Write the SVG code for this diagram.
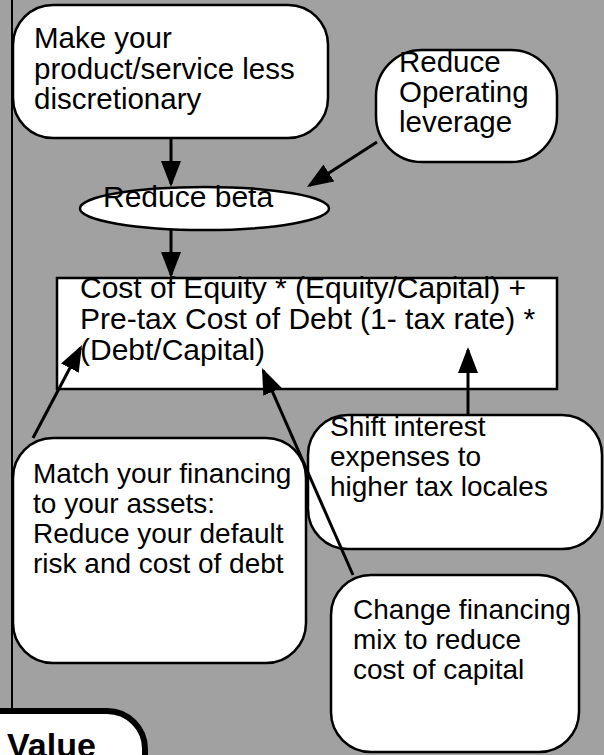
<svg xmlns="http://www.w3.org/2000/svg" width="604" height="755" viewBox="0 0 604 755">
<defs>
<style>
.node{fill:#ffffff;stroke:#000000;stroke-width:2.5}
.t{font-family:"Liberation Sans",Arial,Helvetica,sans-serif;font-size:28px;fill:#000000}
.t29{font-size:29.5px}
.t30{font-size:30px}
.edge{stroke:#000000;stroke-width:3;fill:none;marker-end:url(#ah)}
</style>
<marker id="ah" viewBox="0 0 26 20" refX="23" refY="10" markerUnits="userSpaceOnUse" markerWidth="26" markerHeight="20" orient="auto">
<path d="M0,0 L26,10 L0,20 z" fill="#000000"/>
</marker>
</defs>
<rect x="0" y="0" width="604" height="755" fill="#a1a1a1"/>
<line x1="12" y1="0" x2="12" y2="710" stroke="#000000" stroke-width="2"/>

<g id="node-discretionary">
<rect class="node" x="13" y="5" width="315" height="133" rx="40" ry="40"/>
<text class="t t29" x="34" y="48">Make your</text>
<text class="t t29" x="34" y="78.5">product/service less</text>
<text class="t t29" x="34" y="109">discretionary</text>
</g>

<g id="node-operating">
<rect class="node" x="376" y="50" width="181" height="112" rx="46" ry="46"/>
<text class="t t29" x="399" y="72">Reduce</text>
<text class="t t29" x="399" y="102">Operating</text>
<text class="t t29" x="399" y="132">leverage</text>
</g>

<g id="node-beta">
<ellipse class="node" cx="204.5" cy="208.5" rx="124.5" ry="21.5"/>
<text class="t t30" x="103" y="207">Reduce beta</text>
</g>

<g id="node-wacc">
<rect class="node" x="57" y="278" width="500" height="111"/>
<text class="t t30" x="80" y="298">Cost of Equity * (Equity/Capital) +</text>
<text class="t t30" x="80" y="329">Pre-tax Cost of Debt (1- tax rate) *</text>
<text class="t t30" x="80" y="360">(Debt/Capital)</text>
</g>

<g id="node-match">
<rect class="node" x="13" y="438" width="293" height="225" rx="40" ry="40"/>
<text class="t" x="33" y="483">Match your financing</text>
<text class="t" x="33" y="513">to your assets:</text>
<text class="t" x="33" y="543">Reduce your default</text>
<text class="t" x="33" y="573">risk and cost of debt</text>
</g>

<g id="node-shift">
<rect class="node" x="308" y="415" width="294" height="134" rx="40" ry="40"/>
<text class="t" x="330" y="436">Shift interest</text>
<text class="t" x="330" y="466">expenses to</text>
<text class="t" x="330" y="496">higher tax locales</text>
</g>

<g id="node-mix">
<rect class="node" x="331" y="575" width="248" height="177" rx="40" ry="40"/>
<text class="t" x="353" y="619" font-size="28.6">Change financing</text>
<text class="t" x="353" y="649" font-size="28.6">mix to reduce</text>
<text class="t" x="353" y="679" font-size="28.6">cost of capital</text>
</g>

<g id="node-value">
<rect x="-40" y="711" width="185" height="90" rx="38" ry="38" fill="#ffffff" stroke="#000000" stroke-width="6"/>
<text x="7" y="757" font-family="Liberation Sans,Arial,Helvetica,sans-serif" font-size="34" font-weight="bold" fill="#000000">Value</text>
</g>

<g id="connectors">
<line class="edge" x1="171" y1="138" x2="171" y2="184"/>
<line class="edge" x1="377" y1="142" x2="309.5" y2="185.4"/>
<line class="edge" x1="171" y1="230" x2="171" y2="275"/>
<line class="edge" x1="33" y1="438" x2="80.6" y2="347.7"/>
<line class="edge" x1="353" y1="575" x2="263.2" y2="370.7"/>
<line class="edge" x1="468" y1="415" x2="468" y2="350"/>
</g>
</svg>
